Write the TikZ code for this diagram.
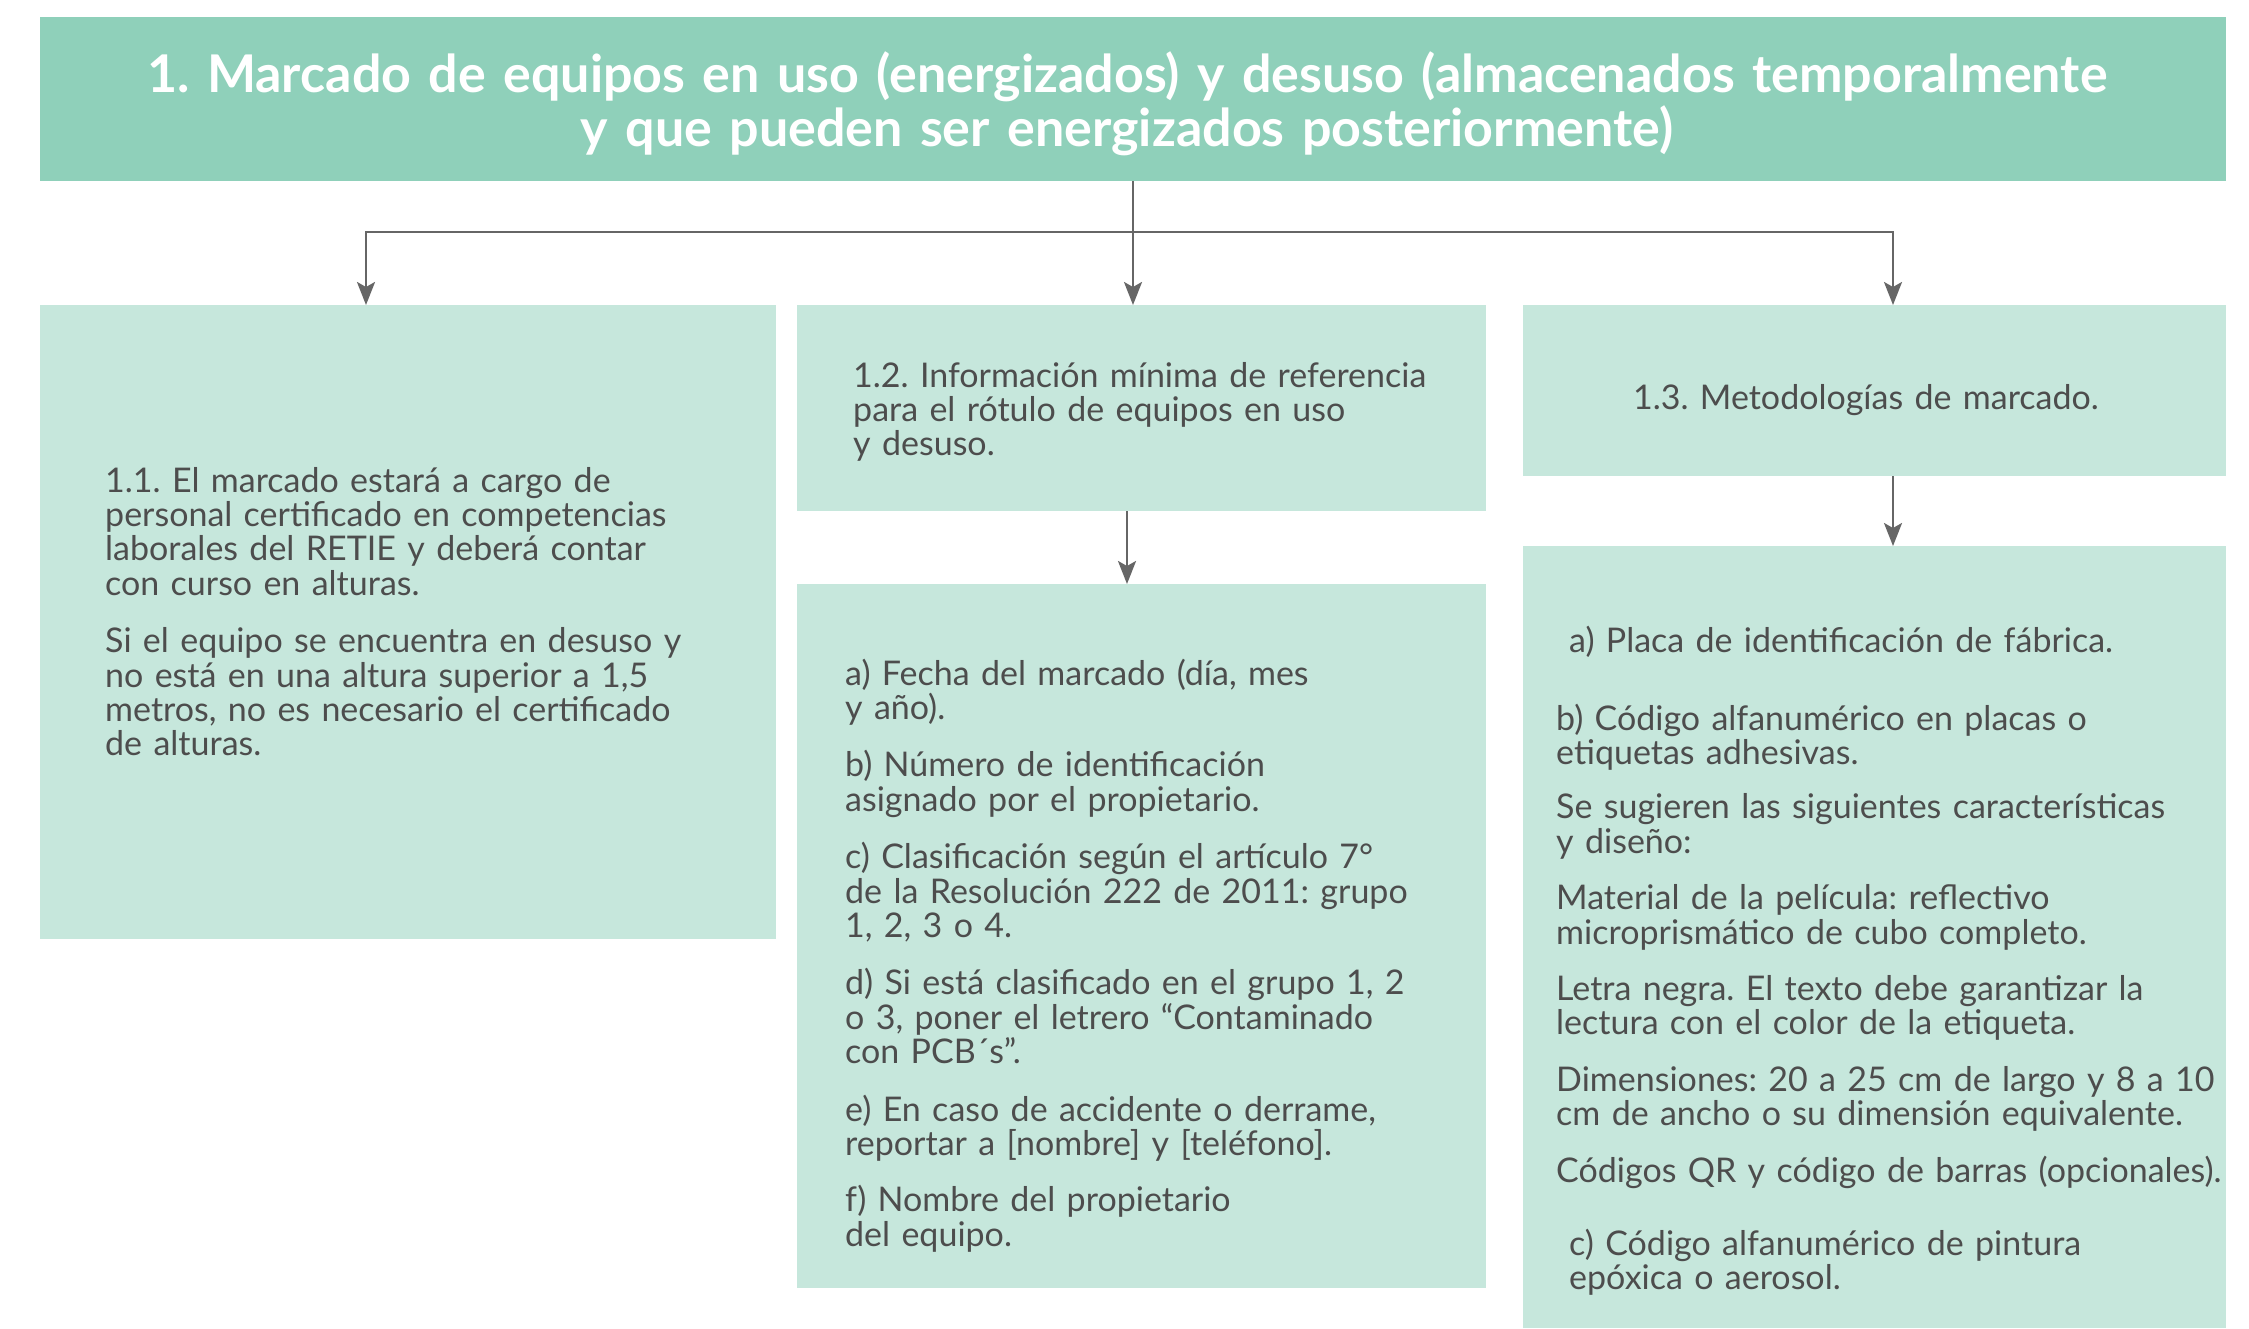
\documentclass[tikz,border=0pt]{standalone}
\usepackage{fontspec}
\setmainfont{Lato}
\usetikzlibrary{arrows.meta}
\definecolor{headc}{HTML}{8FD0BA}
\definecolor{boxc}{HTML}{C6E7DC}
\definecolor{txtc}{HTML}{4D4D4D}
\definecolor{linec}{HTML}{666666}
\frenchspacing
\begin{document}
\begin{tikzpicture}[x=1pt,y=-1pt,
  box/.style={fill=boxc, draw=none, inner sep=0pt, outer sep=0pt, anchor=north west},
  conn/.style={draw=linec, line width=2.4pt},
  arr/.style={conn, -{Stealth[length=23pt,width=18pt,inset=5pt]}},
  body/.style={text=txtc, font=\fontsize{34}{34.4}\selectfont, align=left, inner sep=0pt, anchor=base west, text width=760pt},
  headtxt/.style={text=white, font=\bfseries\fontsize{52}{54.5}\selectfont, align=center, inner sep=0pt, anchor=base, text width=2180pt},
]
\useasboundingbox (0,0) rectangle (2249,1328);
\fill[white] (0,0) rectangle (2249,1328);

% boxes
\node[box, fill=headc, minimum width=2186pt, minimum height=164pt] (head) at (40,17) {};
\node[box, minimum width=736pt, minimum height=634pt] (b11) at (40,305) {};
\node[box, minimum width=689pt, minimum height=206pt] (b12) at (797,305) {};
\node[box, minimum width=689pt, minimum height=704pt] (b12a) at (797,584) {};
\node[box, minimum width=703pt, minimum height=171pt] (b13) at (1523,305) {};
\node[box, minimum width=703pt, minimum height=782pt] (b13a) at (1523,546) {};

% texts
\node[headtxt] (th) at (1127,92) {1. Marcado de equipos en uso (energizados) y desuso (almacenados temporalmente\\y que pueden ser energizados posteriormente)};

\node[body] (t11) at (105,492) {1.1. El marcado estará a cargo de\\personal certificado en competencias\\laborales del RETIE y deberá contar\\con curso en alturas.\\[23pt]Si el equipo se encuentra en desuso y\\no está en una altura superior a 1,5\\metros, no es necesario el certificado\\de alturas.};

\node[body] (t12) at (853,387) {1.2. Información mínima de referencia\\para el rótulo de equipos en uso\\y desuso.};

\node[body] (t12a) at (845,685) {a) Fecha del marcado (día, mes\\y año).\\[23pt]b) Número de identificación\\asignado por el propietario.\\[23pt]c) Clasificación según el artículo 7°\\de la Resolución 222 de 2011: grupo\\1, 2, 3 o 4.\\[23pt]d) Si está clasificado en el grupo 1, 2\\o 3, poner el letrero “Contaminado\\con PCB´s”.\\[23pt]e) En caso de accidente o derrame,\\reportar a [nombre] y [teléfono].\\[22pt]f) Nombre del propietario\\del equipo.};

\node[body, anchor=base, align=center] (t13) at (1866,409) {1.3. Metodologías de marcado.};

\node[body] (t13a1) at (1569,652) {a) Placa de identificación de fábrica.};
\node[body] (t13a2) at (1556,730) {b) Código alfanumérico en placas o\\etiquetas adhesivas.\\[20pt]Se sugieren las siguientes características\\y diseño:\\[22pt]Material de la película: reflectivo\\microprismático de cubo completo.\\[22pt]Letra negra. El texto debe garantizar la\\lectura con el color de la etiqueta.\\[22pt]Dimensiones: 20 a 25 cm de largo y 8 a 10\\cm de ancho o su dimensión equivalente.\\[22pt]Códigos QR y código de barras (opcionales).};
\node[body] (t13a3) at (1569,1255) {c) Código alfanumérico de pintura\\epóxica o aerosol.};

% connectors
\coordinate (j) at (1133,232);
\coordinate (jl) at (366,232);
\coordinate (jr) at (1893,232);
\coordinate (m2) at (1127,0);
\coordinate (m3) at (1893,0);
\draw[conn] (head.south -| j) -- (j);
\draw[arr] (j) -- (j |- b12.north);
\draw[arr] (j) -- (jl) -- (jl |- b11.north);
\draw[arr] (j) -- (jr) -- (jr |- b13.north);
\draw[arr] (b12.south -| m2) -- (b12a.north -| m2);
\draw[arr] (b13.south -| m3) -- (b13a.north -| m3);
\end{tikzpicture}
\end{document}
